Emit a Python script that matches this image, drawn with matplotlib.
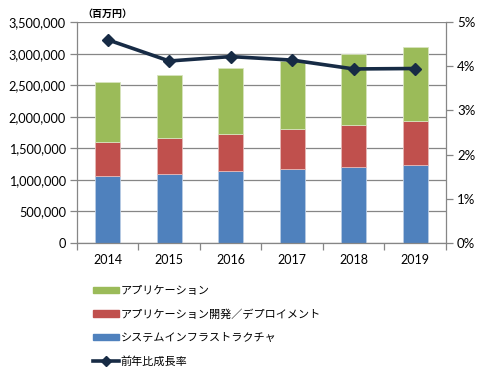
import numpy as np
import matplotlib
matplotlib.use("Agg")
import matplotlib.pyplot as plt
from matplotlib.patches import Patch
from matplotlib.lines import Line2D
from matplotlib.ticker import FuncFormatter

plt.rcParams['font.family'] = ['Lato', 'Noto Sans CJK JP', 'DejaVu Sans']

years = ["2014", "2015", "2016", "2017", "2018", "2019"]
infra = [1066000, 1100000, 1135000, 1167000, 1200000, 1232000]
devops = [534000, 570000, 595000, 633000, 670000, 698000]      # app development / deployment
apps = [950000, 990000, 1040000, 1080000, 1130000, 1180000]
growth = [4.60, 4.12, 4.22, 4.14, 3.94, 3.95]                   # % YoY

labels = ["アプリケーション", "アプリケーション開発／デプロイメント",
          "システムインフラストラクチャ", "前年比成長率"]
c_green, c_red, c_blue, c_line = "#9BBB59", "#C0504D", "#4F81BD", "#172B45"
grid_c = "#868686"

fig = plt.figure(figsize=(4.92, 3.75), dpi=100)
ax = fig.add_axes([0.1565, 0.352, 0.75, 0.589])

x = np.arange(len(years))
w = 0.4
infra_a = np.array(infra)
devops_a = np.array(devops)
ax.bar(x, infra, w, color=c_blue, edgecolor="#B8CCE4", linewidth=0.6, zorder=2)
ax.bar(x, devops, w, bottom=infra_a, color=c_red, edgecolor="#E6B9B8", linewidth=0.6, zorder=2)
ax.bar(x, apps, w, bottom=infra_a + devops_a, color=c_green, edgecolor="#D7E4BD", linewidth=0.6, zorder=2)

ax.set_xlim(-0.5, len(years) - 0.5)
ax.set_ylim(0, 3500000)
ax.set_yticks(np.arange(0, 3500001, 500000))
ax.yaxis.set_major_formatter(FuncFormatter(lambda v, p: f"{int(v):,}"))
ax.grid(axis='y', color=grid_c, linewidth=0.9, zorder=0)
ax.set_axisbelow(True)
ax.set_xticks(x)
ax.set_xticklabels(years)
ax.set_xticks(np.arange(-0.5, len(years) + 0.5, 1), minor=True)
ax.tick_params(axis='x', which='major', length=0, pad=8, labelsize=9)
ax.tick_params(axis='x', which='minor', length=5, color=grid_c, width=0.9)
ax.tick_params(axis='y', length=5, color=grid_c, width=0.9, labelsize=9.2, pad=3)
for s in ['top', 'right']:
    ax.spines[s].set_visible(False)
for s in ['left', 'bottom']:
    ax.spines[s].set_color(grid_c)
    ax.spines[s].set_linewidth(0.9)

ax2 = ax.twinx()
ax2.plot(x, growth, color=c_line, linewidth=2.6, marker='D', markersize=6.5, zorder=5)
ax2.set_ylim(0, 5)
ax2.set_yticks(np.arange(0, 6, 1))
ax2.yaxis.set_major_formatter(FuncFormatter(lambda v, p: f"{int(v)}%"))
ax2.tick_params(axis='y', length=5, color=grid_c, width=0.9, labelsize=9.5, pad=3)
for s in ['top', 'left', 'bottom']:
    ax2.spines[s].set_visible(False)
ax2.spines['right'].set_color(grid_c)
ax2.spines['right'].set_linewidth(0.9)

fig.text(0.168, 0.962, "（百万円）", fontsize=7.2, fontweight='bold', ha='left', va='center')

handles = [Patch(color=c_green), Patch(color=c_red), Patch(color=c_blue),
           Line2D([], [], color=c_line, linewidth=2.6, marker='D', markersize=5)]
fig.legend(handles, labels, loc='upper left', bbox_to_anchor=(0.18, 0.252),
           frameon=False, fontsize=8.0, handlelength=2.3, handleheight=0.5,
           handletextpad=0.2, labelspacing=1.13, borderaxespad=0)

fig.savefig("out.png", dpi=100)
